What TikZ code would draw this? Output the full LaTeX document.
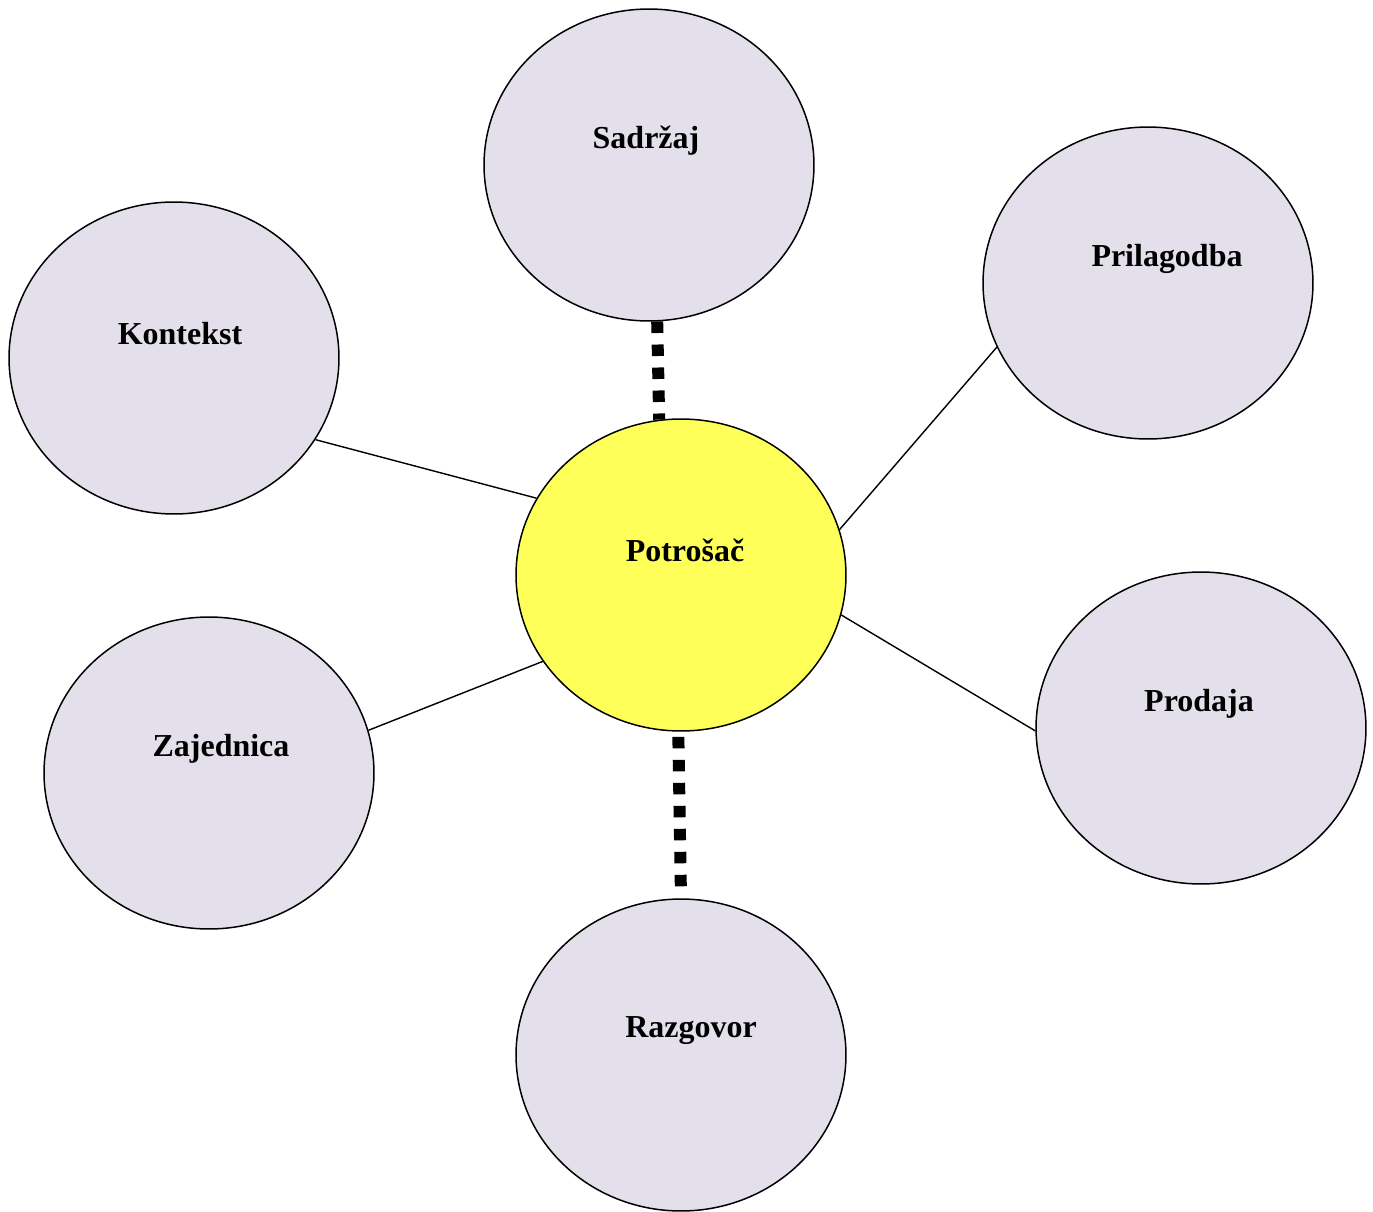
\documentclass[tikz,border=0pt]{standalone}
\usepackage{fontspec}
\setmainfont{Liberation Serif}
\usetikzlibrary{shapes.geometric}

\definecolor{lavender}{HTML}{E3DFEB}
\definecolor{sunny}{HTML}{FFFF59}

\begin{document}
\begin{tikzpicture}[x=0.02cm,y=-0.02cm,
    bubble/.style={ellipse,draw,line width=0.85pt,fill=lavender,minimum width=6.6cm,minimum height=6.24cm,inner sep=0pt},
    tag/.style={font=\fontsize{18.2}{21}\selectfont\bfseries,yshift=0.49cm},
    link/.style={line width=0.8pt},
    dots/.style={line width=0.24cm,dash pattern=on 0.23cm off 0.23cm}]
        \useasboundingbox (0,0) rectangle (1373,1211);

        % Centre
        \node[bubble,fill=sunny,label={[tag,xshift=0.08cm]center:Potrošač}] (potrosac) at (681,575) {};

        % Outer bubbles
        \node[bubble,label={[tag,xshift=-0.06cm]center:Sadržaj}] (sadrzaj) at (649,165) {};
        \node[bubble,label={[tag,xshift=0.12cm]center:Kontekst}] (kontekst) at (174,358) {};
        \node[bubble,label={[tag,xshift=0.38cm]center:Prilagodba}] (prilagodba) at (1148,283) {};
        \node[bubble,label={[tag,xshift=0.24cm]center:Zajednica}] (zajednica) at (209,773) {};
        \node[bubble,label={[tag,xshift=-0.04cm]center:Prodaja}] (prodaja) at (1201,728) {};
        \node[bubble,label={[tag,xshift=0.2cm]center:Razgovor}] (razgovor) at (681,1055) {};

        % Plain links
        \draw[link] (kontekst.-30) -- (potrosac.152);
        \draw[link] (prilagodba.-157) -- (potrosac.16);
        \draw[link] (prodaja.181) -- (potrosac.-14);
        \draw[link] (zajednica.15) -- (potrosac.-148);

        % Dotted links
        \draw[dots] (sadrzaj.-87) -- (potrosac.98);
        \draw[dots,shorten <=0.24cm] (razgovor.90) -- (potrosac.-91);

    \end{tikzpicture}
\end{document}
